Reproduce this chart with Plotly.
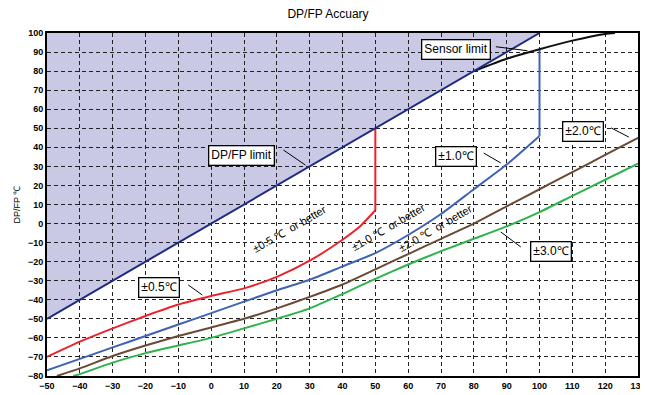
import plotly.graph_objects as go

# ---- data ----
limit_x = [-50, 100]
limit_y = [-50, 100]

sensor_x = [80, 90, 100, 110, 120, 123]
sensor_y = [80, 86.5, 91.5, 96, 99.5, 100]

# last point of each bounded curve is the vertical rise to the limit
r05_x = [-50, -40, -30, -20, -10, 0, 10, 20, 30, 40, 45, 50, 50]
r05_y = [-70, -62, -55, -48.5, -42.5, -38, -34, -28, -19.5, -8.5, -2, 7, 50]

r10_x = [-50, -40, -30, -20, -10, 0, 10, 20, 30, 40, 50, 60, 70, 80, 90, 100, 100]
r10_y = [-77, -71, -65, -59, -53, -47, -41, -35, -29.5, -22.5, -15.5, -6, 5, 18, 31, 46, 91.5]

r20_x = [-47, -40, -30, -20, -10, 0, 10, 20, 30, 40, 50, 60, 70, 80, 90, 100, 110, 120, 130]
r20_y = [-80, -76, -69.5, -64, -59, -54.5, -50, -44.5, -38.5, -32, -24, -16, -8, 0, 9, 18, 27, 36, 45]

r30_x = [-42, -40, -30, -20, -10, 0, 10, 20, 30, 40, 50, 60, 70, 80, 90, 100, 110, 120, 130]
r30_y = [-80, -79, -73, -68, -64, -60, -55, -50, -44.5, -37, -29, -21.5, -14.5, -8, -1.5, 6, 14.5, 23, 31.5]

x_ticks = list(range(-50, 131, 10))
y_ticks = list(range(-80, 101, 10))

box_labels = ["Sensor limit", "DP/FP limit", "±0.5℃", "±1.0℃", "±2.0℃", "±3.0℃"]
box_x = [74.5, 9.3, -16, 74.6, 113.2, 103.6]
box_y = [91.6, 35.5, -33.5, 35.2, 48.3, -14.4]
lead_x0 = [86.7, 22.0, -7.0, 83.0, 121.8, 88.2]
lead_y0 = [92.8, 38.6, -32.2, 37.0, 50.2, -4.4]
lead_x1 = [96.3, 28.7, -2.7, 88.2, 127.2, 94.3]
lead_y1 = [90.7, 30.7, -37.5, 31.8, 45.4, -12.3]

rot_labels = ["±0.5 ℃  or better", "±1.0 ℃  or better", "±2.0 ℃  or better"]
rot_x = [23.8, 54.0, 68.4]
rot_y = [-2.8, -1.8, -2.3]

fig = go.Figure()

# shaded region above the DP/FP limit (below gridlines)
path = "M {},{} L {},{} L {},{} Z".format(limit_x[0], limit_y[0], limit_x[1], limit_y[1], limit_x[0], limit_y[1])
fig.add_shape(type="path", path=path, xref="x", yref="y", fillcolor="#c9c9e5",
              line=dict(width=0), layer="below")

def add_line(xs, ys, color, shape="spline"):
    fig.add_trace(go.Scatter(x=xs, y=ys, mode="lines",
                             line=dict(color=color, width=2, shape=shape, smoothing=0.6),
                             showlegend=False, hoverinfo="skip"))

def add_bounded(xs, ys, color):
    add_line(xs[:-1], ys[:-1], color)
    add_line(xs[-2:], ys[-2:], color, shape="linear")

add_line(r30_x, r30_y, "#2fb24c")
add_line(r20_x, r20_y, "#6a4a36")
add_bounded(r10_x, r10_y, "#3f63b4")
add_bounded(r05_x, r05_y, "#e8242c")
add_line(sensor_x, sensor_y, "#111111")
add_line(limit_x, limit_y, "#1f2a80", shape="linear")

for i, t in enumerate(box_labels):
    fig.add_annotation(x=box_x[i], y=box_y[i], xref="x", yref="y", text=t, showarrow=False,
                       font=dict(family="Liberation Sans, Arial, sans-serif", size=12, color="black"),
                       bgcolor="white", bordercolor="black", borderwidth=1.3, borderpad=2)
    fig.add_shape(type="line", x0=lead_x0[i], y0=lead_y0[i], x1=lead_x1[i], y1=lead_y1[i],
                  xref="x", yref="y", line=dict(color="black", width=1))

for i, t in enumerate(rot_labels):
    fig.add_annotation(x=rot_x[i], y=rot_y[i], xref="x", yref="y", text=t, showarrow=False,
                       textangle=-30,
                       font=dict(family="Liberation Sans, Arial, sans-serif", size=11, color="black"))

axis_common = dict(showgrid=True, gridcolor="#222222", gridwidth=1, griddash="4px,3px",
                   showline=True, linecolor="black", linewidth=2, mirror=True,
                   zeroline=False, ticks="", automargin=False, ticklabeloverflow="allow",
                   tickfont=dict(family="Liberation Sans Narrow, Arial Narrow, Liberation Sans, sans-serif",
                                 size=9, color="black", weight="bold"))

fig.update_xaxes(range=[-50, 130], tickvals=x_ticks, **axis_common)
fig.update_yaxes(range=[-80, 100], tickvals=y_ticks,
                 title=dict(text="DP/FP ℃", font=dict(family="Liberation Sans, Arial, sans-serif", size=9, color="black"),
                            standoff=6),
                 **axis_common)

# page body adds an 8px offset, so the figure is 640x387 inside the 648x395 window
fig.update_layout(
    width=640, height=387,
    margin=dict(l=39, r=10, t=25, b=19),
    paper_bgcolor="white", plot_bgcolor="white",
    title=dict(text="DP/FP Accuary", x=0.5, xanchor="center", y=1 - 6 / 387, yanchor="middle",
               font=dict(family="Liberation Sans, Arial, sans-serif", size=12, color="black")),
)

fig.write_html("out.html")
